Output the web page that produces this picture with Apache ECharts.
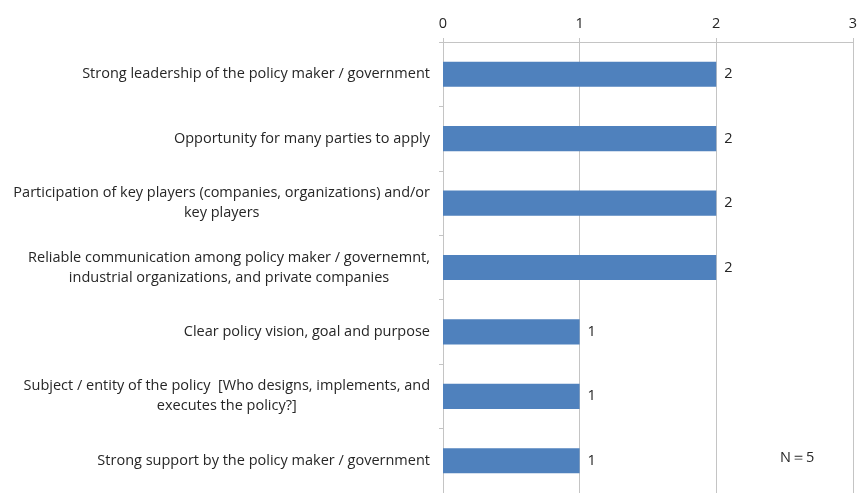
<!DOCTYPE html>
<html>
<head>
<meta charset="utf-8">
<style>
  html, body { margin: 0; padding: 0; background: #fff; }
  #chart { width: 860px; height: 493px; }
</style>
<script src="https://cdn.jsdelivr.net/npm/echarts@6/dist/echarts.min.js"></script>
</head>
<body>
<div id="chart"></div>
<script>
// Success factors named by respondents (count of mentions)
const factors = [
  'Strong leadership of the policy maker / government',
  'Opportunity for many parties to apply',
  'Participation of key players (companies, organizations) and/or\nkey players',
  'Reliable communication among policy maker / governemnt,\nindustrial organizations, and private companies',
  'Clear policy vision, goal and purpose',
  'Subject / entity of the policy  [Who designs, implements, and\nexecutes the policy?]',
  'Strong support by the policy maker / government'
];
const mentions = [2, 2, 2, 2, 1, 1, 1];
const axisTicks = [0, 1, 2, 3];
const sampleNote = 'N\uFF1D5';

const FONT = '"Open Sans", "Noto Sans", sans-serif';
const FS = 14.5;
const TEXT = '#262626';
const LINE = '#c4c4c4';

const chart = echarts.init(document.getElementById('chart'), null, { renderer: 'canvas' });

chart.setOption({
  animation: false,
  backgroundColor: '#ffffff',
  grid: { left: 443, width: 414, top: 42, height: 454, containLabel: false },
  xAxis: {
    type: 'value',
    position: 'top',
    min: axisTicks[0],
    max: axisTicks[axisTicks.length - 1],
    interval: 1,
    axisLine: { show: true, lineStyle: { color: LINE, width: 1 } },
    axisTick: { show: true, length: 4, lineStyle: { color: LINE } },
    splitLine: { show: true, lineStyle: { color: LINE, width: 1 } },
    axisLabel: { color: TEXT, fontFamily: FONT, fontSize: FS, margin: 11 }
  },
  yAxis: {
    type: 'category',
    inverse: true,
    data: factors,
    axisLine: { show: true, lineStyle: { color: LINE, width: 1 } },
    axisTick: { show: true, length: 4, lineStyle: { color: LINE } },
    axisLabel: {
      color: TEXT,
      fontFamily: FONT,
      fontSize: FS,
      lineHeight: 20,
      margin: 13,
      formatter: function (v) {
        return v.split('\n').map(function (l) { return '{c|' + l + '}'; }).join('\n');
      },
      rich: {
        c: { align: 'center', color: TEXT, fontFamily: FONT, fontSize: FS, lineHeight: 20 }
      }
    }
  },
  series: [{
    type: 'bar',
    data: mentions,
    barWidth: '39%',
    itemStyle: { color: '#4f81bd' },
    label: {
      show: true,
      position: 'right',
      distance: 8,
      color: TEXT,
      fontFamily: FONT,
      fontSize: FS
    }
  }],
  graphic: [{
    type: 'text',
    left: 780,
    top: 450,
    style: { text: sampleNote, fill: TEXT, font: FS + 'px ' + FONT }
  }]
});
</script>
</body>
</html>
